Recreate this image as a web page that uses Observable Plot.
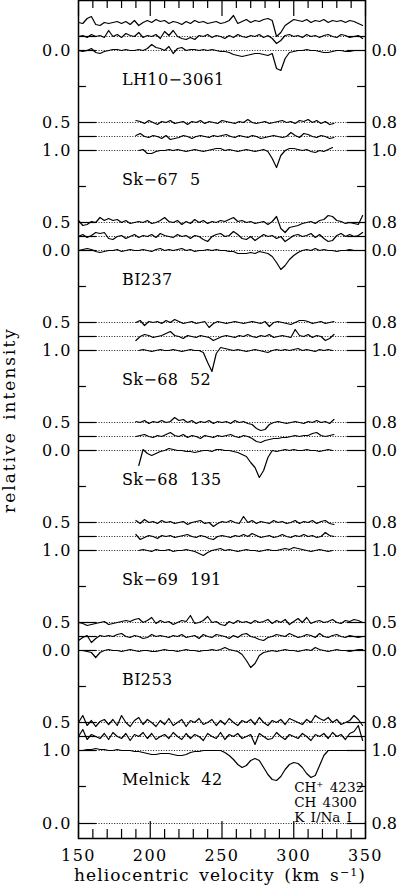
<!DOCTYPE html>
<html><head><meta charset="utf-8">
<script src="https://cdn.jsdelivr.net/npm/d3@7"></script>
<script src="https://cdn.jsdelivr.net/npm/@observablehq/plot@0.6"></script>
<style>body{margin:0;background:#fff;} #chart{width:400px;height:885px;overflow:hidden;}</style>
</head><body><div id="chart"></div>
<script>
// ---------------- DATA ----------------
const panelNames = ["LH10−3061","Sk−67 5","BI237","Sk−68 52","Sk−68 135","Sk−69 191","BI253","Melnick 42"];
const leftTopLabels  = [null,"0.5","0.5","0.5","0.5","0.5","0.5","0.5"];
const leftBotLabels  = ["0.0","1.0","0.0","1.0","0.0","1.0","0.0","1.0"];
const rightTopLabels = [null,"0.8","0.8","0.8","0.8","0.8","0.5","0.8"];
const rightBotLabels = ["0.0","1.0","0.0","1.0","0.0","1.0","0.0","1.0"];
const extraLeftLabel = "0.0", extraRightLabel = "0.8";
const legendLabels = ["CH⁺ 4232","CH 4300","K I/Na I"];
const xTickLabels = [150,200,250,300,350];
const xMinorTicks = [160,170,180,190,210,220,230,240,260,270,280,290,310,320,330,340];
// level offsets of the three spectra in each panel (CH+, CH, K I/Na I)
const levels = [0.28, 0.14, 0];
// spectra sampled every 3 km/s from their start velocity
const velStep = 3;
// spectra: deviation from continuum in hundredths of relative intensity
const lh10_chp = [0,-1,4,6,-2,-3,0,-1,0,1, -1,1,-2,2,-3,0,2,0,3,1, 2,-1,1,0,-2,1,-1,2,0,1, -1,0,1,-1,0,2,7,-1,1,3, 0,2,1,3,4,2,-14,-10,-3,0, 3,2,1,3,0,2,1,3,0,2, 1,2,0,2,1,-1,-3];
const lh10_ch  = [0,1,-1,2,0,1,-1,6,0,2, -1,3,1,0,4,-1,1,0,2,-2, 5,1,6,0,-2,-3,-1,-3,1,0, 2,-1,1,0,-2,1,-1,2,0,-1, 1,0,2,-1,1,-2,-7,-4,1,2, 0,1,-1,2,0,1,-1,1,2,0, -1,2,1,-1,0,1,-2];
const lh10_ki  = [0,-1,0,2,-2,-3,-1,0,1,1, 0,1,0,0,1,0,2,6,3,2, 0,4,-3,2,3,0,1,1,0,1, 0,1,0,-1,-1,-2,-4,-5,-6,-5, -4,-3,-3,-4,-5,-3,-18,-20,-8,-2, -1,0,0,1,0,0,-1,-2,-2,-1, 0,0,-1,-1,0,0,0];
const sk675_chp = [2,1,-1,2,0,-2,1,0,2,-1, 0,1,-2,1,0,2,-1,1,0,-1, 2,1,0,-1,1,0,3,0,-1,0, 1,-1,0,1,2,0,1,-1,2,1, 3,0,2,-1,1,-2,-1];
const sk675_ch  = [1,3,0,-1,1,0,-2,1,-3,-2, -1,1,0,-2,0,1,0,-1,1,0, 1,2,0,-1,1,0,-1,1,0,-2, -1,0,1,0,-1,0,4,1,-1,3, 2,0,-1,1,0,-2,-1];
const sk675_ki  = [0,1,-3,-3,-1,0,0,1,0,1, 0,-1,0,1,0,-1,0,1,2,2, 0,1,0,-1,0,1,0,-1,0,1, -1,-8,-17,-5,0,2,2,1,0,1, -1,-2,0,-1,1,3];
const bi237_chp = [2,-3,-2,1,0,5,2,4,2,3, 0,2,-1,0,1,0,2,-1,0,2, 5,1,0,2,-2,1,-1,3,0,2, -1,1,0,2,1,3,5,1,2,0, 1,-1,0,1,-2,1,6,-6,-10,-5, -4,-3,-1,0,1,-1,2,3,7,6, 2,1,-1,0,-1,-2,7];
const bi237_ch  = [0,2,-1,1,4,3,4,-2,-3,0, 1,-2,0,2,-1,1,0,2,-1,3, 1,0,-1,2,0,1,-2,1,0,-3, -5,0,2,3,0,1,5,2,-2,-3, 0,-4,-1,2,0,1,-2,0,-5,-2, 1,2,0,1,3,-1,2,-2,-5,-4, 1,3,0,2,0,1,4];
const bi237_ki  = [0,1,2,1,-1,-2,-1,0,0,1, -1,0,1,0,0,1,0,-1,1,2, 0,1,0,1,2,0,1,-1,0,0, 1,0,1,0,0,-1,-1,-3,-3,-3, -2,-3,-1,-2,-3,-6,-12,-19,-15,-9, -5,-2,0,1,0,2,0,1,0,0, -1,0,0,1,0,0,0];
const sk6852_chp = [0,2,-3,1,0,1,-1,2,0,3, 1,-1,0,1,-1,0,1,-5,-1,1, 0,-1,0,1,0,-1,0,1,0,-1, 1,-4,0,1,0,-1,-2,0,2,2, 1,-1,0,1,-1,0,1];
const sk6852_ch  = [-4,0,2,1,-1,0,1,3,5,1, 0,-2,1,0,-1,1,0,-1,-4,-2, 0,1,0,-1,1,0,2,0,-1,1, 0,2,-1,0,1,0,-1,7,1,0, 2,-1,1,0,-4,-2,2];
const sk6852_ki  = [0,1,0,-1,0,1,0,0,1,0, -1,0,1,0,0,-2,-12,-21,-3,3, 2,1,0,1,0,-1,0,1,0,-1, -2,0,1,0,1,0,1,2,0,1, 0,-1,1,0,1,0];
const sk68135_chp = [1,0,2,-1,1,0,2,0,1,5, 2,3,0,2,-1,1,0,2,-1,1, 0,1,-1,2,0,1,-1,-2,-6,-8, -7,-2,0,1,0,-1,0,1,0,-1, 1,0,2,0,1,-1,3];
const sk68135_ch  = [0,1,2,0,-1,1,0,2,4,1, 0,2,-1,1,0,-2,1,0,-1,1, 0,1,2,0,-1,1,0,-2,-5,-6, -4,-3,-2,-2,-1,-1,0,1,0,1, 1,3,4,1,0,1,2];
const sk68135_ki  = [-15,1,-3,-5,-3,-1,0,2,1,0, 0,-1,-1,-2,-1,0,0,-1,1,1, 0,0,-1,-2,-4,-6,-12,-17,-27,-20, -7,0,-1,0,1,0,1,0,0,1, 0,0,-1,0,1,0];
const sk69191_chp = [2,-1,3,0,1,-1,2,0,1,-1, 0,1,-2,0,1,2,-1,0,-4,-1, 1,0,2,0,-1,6,0,2,-1,1, 0,-1,2,0,1,-1,0,2,-1,1, 0,2,-1,1,2,-1,-2];
const sk69191_ch  = [2,-3,-1,1,0,-2,1,0,1,-1, 0,1,2,0,-1,1,0,-2,-3,0, 1,0,-1,1,0,2,0,3,1,-1, 0,1,-1,0,2,0,-1,1,0,2, 0,1,-1,0,4,1,0];
const sk69191_ki  = [0,1,0,-1,1,0,0,1,-1,0, 0,1,0,-1,-3,-5,-2,0,1,2, 0,1,0,-1,0,1,0,0,-1,0, 1,0,0,1,2,1,3,2,1,0, -1,0,1,0,-1,0];
const bi253_chp = [0,-1,-3,-2,-1,0,1,-2,-1,0, 1,2,1,3,4,0,2,5,-1,2, 0,1,-2,0,2,1,7,-1,0,2, 6,0,1,-2,-3,1,-1,2,0,1, -1,2,0,1,3,-1,2,0,3,-2, 1,4,0,5,-1,1,2,0,1,3, 0,-1,2,1,3,2,0];
const bi253_ch  = [-4,-1,1,-6,-2,1,0,1,0,2, 3,0,-1,1,0,-2,-1,2,0,1, 0,-1,1,0,2,-1,0,1,-2,2, 0,-1,2,1,0,-2,1,-1,2,3, 0,-1,-3,-4,-1,0,2,1,0,3, 1,-1,0,2,1,-1,3,0,-1,1, 2,0,-1,1,0,-1,0];
const bi253_ki  = [0,0,-1,-2,-7,-2,0,1,0,0, -1,0,1,0,-1,0,0,-1,-1,0, 1,0,0,-1,0,1,0,0,-1,0, 0,1,0,1,3,1,0,-1,-4,-10, -17,-13,-5,-2,-1,0,-1,0,1,0, 0,-1,0,1,0,3,1,0,-1,0, 1,0,0,-1,0,1,1];
const mk42_chp = [0,7,-3,2,-4,1,3,-2,3,-3, 7,0,-4,2,5,-2,3,0,-4,2, -2,4,-3,0,3,-4,2,0,4,-2, 0,3,-3,2,-2,4,0,-3,2,0, 3,-2,5,0,-3,2,0,3,-2,4, 2,0,-2,3,0,7,4,2,5,0, 3,-2,0,2,7,3,-3];
const mk42_ch  = [0,7,-3,2,0,-2,3,-3,4,0, -2,3,-4,2,0,4,-2,3,-3,0, 2,-2,4,0,-3,3,-2,2,0,-4, 3,0,-2,4,-3,2,0,3,-2,0, 2,-8,3,0,-3,-2,4,0,-3,2, 0,-2,3,0,-4,2,0,3,-2,4, 0,2,-3,3,5,11,-4];
const mk42_ki  = [0,0,1,1,2,1,1,0,0,1, 0,0,0,-1,-1,-2,-3,-4,-4,-3, -3,-3,-4,-5,-5,-4,-2,-1,-1,0, 0,0,0,0,-2,-5,-9,-14,-17,-15, -10,-8,-10,-17,-24,-29,-30,-26,-19,-14, -12,-13,-17,-23,-27,-25,-15,-5,0,0, 0,0,0,0,0,0,0];

// [panel, level index, start velocity, values]
const spectraTable = [
  [0,0,150,lh10_chp],[0,1,150,lh10_ch],[0,2,150,lh10_ki],
  [1,0,190,sk675_chp],[1,1,190,sk675_ch],[1,2,192,sk675_ki],
  [2,0,150,bi237_chp],[2,1,150,bi237_ch],[2,2,150,bi237_ki],
  [3,0,190,sk6852_chp],[3,1,190,sk6852_ch],[3,2,192,sk6852_ki],
  [4,0,190,sk68135_chp],[4,1,190,sk68135_ch],[4,2,192,sk68135_ki],
  [5,0,190,sk69191_chp],[5,1,190,sk69191_ch],[5,2,192,sk69191_ki],
  [6,0,150,bi253_chp],[6,1,150,bi253_ch],[6,2,150,bi253_ki],
  [7,0,150,mk42_chp],[7,1,150,mk42_ch],[7,2,150,mk42_ki]
];

// ---------------- BUILD ----------------
const xMin = 150, xMax = 350, yTop = 0.5, yBot = -7.88;
const stub = 12.5, minorLen = 5.5;
const rows = spectraTable.flatMap(([k, s, start, vals], j) =>
  vals.map((d, i) => ({id: j, v: start + i * velStep, y: -k + levels[s] + d / 100})));

const refs = [];
panelNames.forEach((n, k) => {
  (k === 0 ? [1, 2] : [0, 1, 2]).forEach(s => refs.push(-k + levels[s]));
});
const extraY = -7 - 0.73;
refs.push(extraY);

const panelIdx = panelNames.map((n, k) => k);
const labelRows = [];
panelIdx.forEach(k => {
  if (leftTopLabels[k]) labelRows.push({side: "L", y: -k + levels[0], t: leftTopLabels[k]});
  labelRows.push({side: "L", y: -k, t: leftBotLabels[k]});
  if (rightTopLabels[k]) labelRows.push({side: "R", y: -k + levels[0], t: rightTopLabels[k]});
  labelRows.push({side: "R", y: -k, t: rightBotLabels[k]});
});
labelRows.push({side: "L", y: extraY, t: extraLeftLabel});
labelRows.push({side: "R", y: extraY, t: extraRightLabel});

const fam = "DejaVu Serif";
const plot = Plot.plot({
  width: 400, height: 885,
  marginTop: 0, marginBottom: 47, marginLeft: 78, marginRight: 35,
  x: {domain: [xMin, xMax]},
  y: {domain: [yBot, yTop], axis: null},
  style: {fontFamily: fam, fontSize: "16px", color: "black", background: "white"},
  marks: [
    Plot.ruleY(refs, {y: d => d, x1: xMin + stub, x2: xMax - stub, stroke: "black", strokeWidth: 0.9, strokeDasharray: "1,1.6"}),
    Plot.ruleY(refs, {y: d => d, x1: xMin, x2: xMin + stub, stroke: "black", strokeWidth: 1.2}),
    Plot.ruleY(refs, {y: d => d, x1: xMax - stub, x2: xMax, stroke: "black", strokeWidth: 1.2}),
    Plot.ruleY(panelIdx, {y: k => -k - 0.36, x1: xMin, x2: xMin + minorLen, stroke: "black", strokeWidth: 1.2}),
    Plot.ruleY(panelIdx, {y: k => -k - 0.36, x1: xMax - minorLen, x2: xMax, stroke: "black", strokeWidth: 1.2}),
    Plot.ruleX(xTickLabels, {x: d => d, y1: yBot, y2: yBot + 0.17, stroke: "black", strokeWidth: 1.2}),
    Plot.ruleX(xMinorTicks, {x: d => d, y1: yBot, y2: yBot + 0.09, stroke: "black", strokeWidth: 1.2}),
    Plot.ruleX(xTickLabels, {x: d => d, y1: yTop, y2: yTop - 0.16, stroke: "black", strokeWidth: 1.2}),
    Plot.ruleX(xMinorTicks, {x: d => d, y1: yTop, y2: yTop - 0.08, stroke: "black", strokeWidth: 1.2}),
    Plot.line(rows, {x: "v", y: "y", z: "id", stroke: "black", strokeWidth: 1.2}),
    Plot.frame({stroke: "black", strokeWidth: 1.5}),
    Plot.text(panelNames, {x: 180.3, y: (d, k) => -k - 0.29, text: d => d, textAnchor: "start", fontSize: 16, fill: "black",
      className: "pname"}),
    Plot.text(labelRows.filter(d => d.side === "L"), {x: xMin, y: "y", text: "t", textAnchor: "end", dx: -6.5, fontSize: 16, fill: "black", className: "tlab"}),
    Plot.text(labelRows.filter(d => d.side === "R"), {x: xMax, y: "y", text: "t", textAnchor: "start", dx: 6, fontSize: 16, fill: "black"}),
    Plot.text(legendLabels, {x: 300.3, y: (d, i) => -7.37 - i * 0.15, text: d => d, textAnchor: "start", fontSize: 13.5, fill: "black", className: "legend"}),
    Plot.axisX({ticks: xTickLabels, tickSize: 0, tickPadding: 11, tickFormat: d => String(d), label: null, fontSize: 16, className: "xax"})
  ]
});
document.getElementById("chart").append(plot);

const svg = d3.select(plot);
svg.selectAll(".pname text").style("word-spacing", "6px").style("letter-spacing", "0.4px");
svg.selectAll(".tlab text").style("letter-spacing", "1.5px");
svg.selectAll(".legend text").style("word-spacing", "2px");
svg.selectAll(".xax text").style("letter-spacing", "1.5px");
const xt = svg.append("text").attr("x", 220).attr("y", 881).attr("text-anchor", "middle")
  .attr("font-family", fam).attr("font-size", 17).attr("fill", "black")
  .style("letter-spacing", "1.1px").style("word-spacing", "3px");
xt.append("tspan").text("heliocentric velocity (km s");
xt.append("tspan").attr("dy", -5).attr("font-size", 11).text("−1");
xt.append("tspan").attr("dy", 5).text(")");
svg.append("text").attr("transform", "translate(15,420) rotate(-90)").attr("text-anchor", "middle")
  .attr("font-family", fam).attr("font-size", 17).attr("fill", "black")
  .style("letter-spacing", "2px").style("word-spacing", "4px").text("relative intensity");
</script></body></html>
